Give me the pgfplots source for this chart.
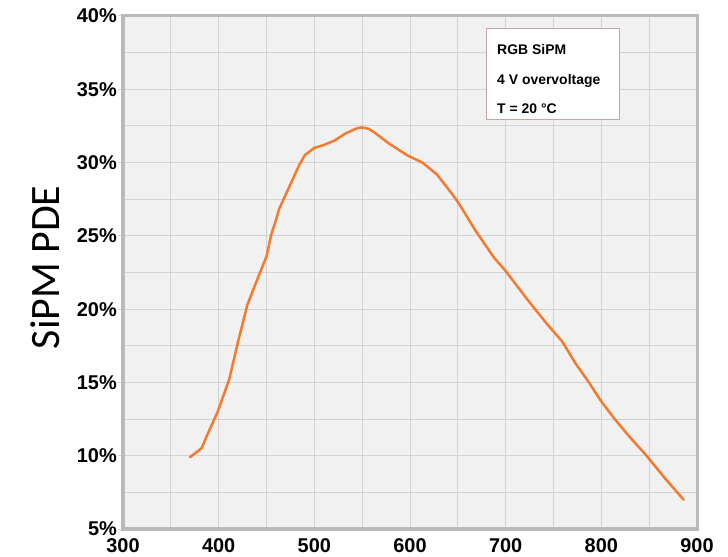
\documentclass[border=0pt]{standalone}
\usepackage{fontspec}
\setmainfont{Liberation Sans}
\newfontfamily\calibri{Carlito}
\usepackage{pgfplots}
\pgfplotsset{compat=1.18}
\definecolor{bgc}{HTML}{F1F1F1}
\definecolor{gridc}{HTML}{D2D2D2}
\definecolor{framec}{HTML}{BABABA}
\definecolor{curvec}{HTML}{F47A30}
\definecolor{boxc}{HTML}{C8A4A4}
\begin{document}
\begin{tikzpicture}
\useasboundingbox (0,0) rectangle (728bp,557bp);
\begin{axis}[
  at={(123bp,28bp)}, anchor=south west,
  scale only axis, width=574bp, height=513bp,
  xmin=300, xmax=900, ymin=5, ymax=40,
  xtick={300,400,...,900},
  minor xtick={350,450,...,850},
  ytick={5,10,...,40},
  minor ytick={7.5,12.5,...,37.5},
  grid=both,
  grid style={gridc, line width=1bp},
  minor grid style={gridc, line width=1bp},
  axis line style={framec, line width=3bp},
  axis background/.style={fill=bgc},
  tick style={gridc, line width=1bp},
  xtick style={draw=none},
  minor tick length=0pt,
  ytick pos=left,
  tick align=outside,
  major tick length=5bp,
  /pgf/number format/assume math mode=true,
  ticklabel style={font=\fontsize{20}{20}\selectfont\bfseries, text=black},
  yticklabel style={inner sep=0pt, xshift=-1bp},
  xticklabel style={inner sep=0pt, yshift=-4bp},
  yticklabel={\pgfmathprintnumber{\tick}\%},
  xticklabel={\pgfmathprintnumber[1000 sep={}]{\tick}},
  ylabel={SiPM PDE},
  ylabel style={at={(axis description cs:-0.136,0.51)}, anchor=center, font=\calibri\fontsize{42}{42}\selectfont},
  clip=false,
]
\addplot[curvec, line width=2.5bp, line join=round, line cap=round] coordinates {
(370,9.9) (382,10.5) (390,11.7) (399,13.0) (411,15.2) (420,17.7) (430,20.3)
(439,21.8) (450,23.6) (455,25.1) (460,26.1) (463,26.8) (470,27.8) (477,28.8)
(484,29.8) (490,30.5) (500,31.0) (510,31.2) (521,31.5) (533,32.0) (545,32.35)
(550,32.4) (557,32.3) (564,32.0) (578,31.3) (597,30.5) (613,30.0) (628,29.2)
(640,28.2) (648,27.5) (655,26.8) (668,25.4) (688,23.5) (700,22.6) (714,21.4)
(727,20.3) (743,19.0) (759,17.8) (773,16.3) (787,15.0) (800,13.7) (814,12.5)
(830,11.25) (846,10.1) (866,8.5) (886,7.0)
};
\draw[boxc, line width=1bp, fill=white] (rel axis cs:0.6324,0.9747) rectangle (rel axis cs:0.8641,0.7973);
\node[anchor=base west, inner sep=0pt, font=\fontsize{14}{14}\selectfont\bfseries] at (rel axis cs:0.6516,0.9259) {RGB SiPM};
\node[anchor=base west, inner sep=0pt, font=\fontsize{14}{14}\selectfont\bfseries] at (rel axis cs:0.6516,0.8674) {4 V overvoltage};
\node[anchor=base west, inner sep=0pt, font=\fontsize{14}{14}\selectfont\bfseries] at (rel axis cs:0.6516,0.8109) {T = 20 °C};
\end{axis}
\end{tikzpicture}
\end{document}
